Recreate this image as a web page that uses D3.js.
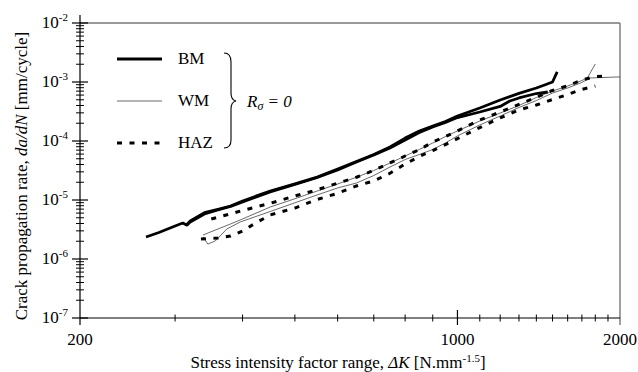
<!DOCTYPE html>
<html><head><meta charset="utf-8">
<script src="https://cdn.jsdelivr.net/npm/d3@7"></script>
<style>
body{margin:0;background:#fff}
svg{display:block}
</style>
</head><body><svg id="c" width="638" height="372" font-family="'Liberation Serif', 'Times New Roman', serif"></svg>
<script>
// ---- data ----
const xTickLabels = [200, 1000, 2000];
const yExponents = [-7, -6, -5, -4, -3, -2];
const legendNames = ["BM", "WM", "HAZ"];

const bmA_dK   = [265,280,300,310,315,320,340,360,380,400,450,500,550,600,650,700,750,800,850,900,950,1000,1100,1200,1300,1400,1450,1500,1530];
const bmA_rate = [2.36e-6,2.81e-6,3.62e-6,4.07e-6,3.77e-6,4.41e-6,6.10e-6,6.95e-6,7.91e-6,9.62e-6,1.42e-5,1.87e-5,2.45e-5,3.35e-5,4.50e-5,5.91e-5,7.91e-5,1.12e-4,1.48e-4,1.79e-4,2.14e-4,2.65e-4,3.62e-4,4.95e-4,6.43e-4,7.91e-4,8.89e-4,1.0e-3,1.48e-3];

const bmB_dK   = [315,320,340,360,380,400,450,500,550,600,650,700,750,800,850,900,950,1000,1100,1200,1250,1300,1400,1470];
const bmB_rate = [3.70e-6,4.24e-6,5.80e-6,6.77e-6,7.76e-6,9.25e-6,1.37e-5,1.83e-5,2.41e-5,3.22e-5,4.41e-5,5.80e-5,7.60e-5,1.04e-4,1.39e-4,1.73e-4,2.06e-4,2.50e-4,3.10e-4,3.85e-4,4.76e-4,5.36e-4,6.38e-4,6.77e-4];

const wmA_dK   = [338,360,380,400,450,500,550,600,650,700,750,800,850,900,950,1000,1100,1200,1300,1400,1500,1600,1700,1740,1800];
const wmA_rate = [2.55e-6,3.22e-6,3.92e-6,4.77e-6,7.60e-6,1.05e-5,1.42e-5,1.87e-5,2.43e-5,3.16e-5,4.24e-5,5.57e-5,7.18e-5,9.25e-5,1.19e-4,1.48e-4,2.18e-4,2.98e-4,4.00e-4,5.46e-4,7.03e-4,8.55e-4,1.06e-3,1.17e-3,2.02e-3];

const wmB_dK   = [338,345,356,374,396,450,500,550,600,650,700,750,800,850,900,950,1000,1100,1200,1300,1400,1500,1600,1700,1760,2000];
const wmB_rate = [2.36e-6,1.79e-6,2.02e-6,3.22e-6,4.24e-6,6.38e-6,8.97e-6,1.22e-5,1.60e-5,1.94e-5,2.60e-5,3.62e-5,4.85e-5,5.91e-5,7.18e-5,9.25e-5,1.22e-4,1.87e-4,2.65e-4,3.70e-4,4.85e-4,6.51e-4,7.91e-4,9.82e-4,1.17e-3,1.22e-3];

const hazA_dK   = [350,380,400,450,500,550,600,650,700,750,800,850,900,950,1000,1100,1200,1300,1400,1500,1600,1700,1800,1900];
const hazA_rate = [4.77e-6,5.80e-6,6.64e-6,8.79e-6,1.17e-5,1.49e-5,1.93e-5,2.43e-5,3.18e-5,4.24e-5,5.57e-5,7.13e-5,9.61e-5,1.19e-4,1.48e-4,2.27e-4,3.10e-4,4.16e-4,5.51e-4,7.18e-4,8.63e-4,1.08e-3,1.24e-3,1.26e-3];

const hazB_dK   = [335,360,380,400,420,450,500,550,600,650,700,750,800,850,900,950,1000,1100,1200,1300,1400,1500,1600,1700,1800];
const hazB_rate = [2.18e-6,2.27e-6,2.45e-6,2.98e-6,3.92e-6,5.57e-6,7.31e-6,1.02e-5,1.30e-5,1.73e-5,2.10e-5,2.84e-5,4.07e-5,5.46e-5,6.90e-5,8.69e-5,1.10e-4,1.69e-4,2.47e-4,3.35e-4,4.07e-4,5.05e-4,6.14e-4,7.51e-4,8.55e-4];

// ---- chart ----
const FONT = "'Liberation Serif', 'Times New Roman', serif";
const svg = d3.select("#c");
const L = 80, R = 620, T = 23, B = 318;
const x = d3.scaleLog().domain([200, 2000]).range([L, R]);
const y = d3.scaleLog().domain([1e-7, 1e-2]).range([B, T]);

const styles = {
  BM:  {stroke:"#000", width:2.8, dash:null},
  WM:  {stroke:"#444", width:0.8, dash:null},
  HAZ: {stroke:"#000", width:3, dash:"5,7.5"}
};
const txt = (sel, size) => sel.attr("font-family", FONT).attr("font-size", size).attr("fill", "#000");

// frame
svg.append("line").attr("x1",L).attr("x2",R).attr("y1",T).attr("y2",T).attr("stroke","#777").attr("stroke-width",1.4);
svg.append("line").attr("x1",R).attr("x2",R).attr("y1",T).attr("y2",B+7).attr("stroke","#777").attr("stroke-width",1.4);
svg.append("line").attr("x1",L).attr("x2",L).attr("y1",T-8).attr("y2",B+7).attr("stroke","#000").attr("stroke-width",1.2);
svg.append("line").attr("x1",L).attr("x2",R).attr("y1",B).attr("y2",B).attr("stroke","#000").attr("stroke-width",1.2);

// y ticks
const yMinor = [];
yExponents.forEach(e => { if (e < -2) for (let m = 2; m <= 9; m++) yMinor.push(m * Math.pow(10, e)); });
svg.append("g").selectAll("line").data(yMinor).join("line")
  .attr("x1",L-4).attr("x2",L+4).attr("y1",d=>y(d)).attr("y2",d=>y(d)).attr("stroke","#000").attr("stroke-width",1);
svg.append("g").selectAll("line").data(yExponents).join("line")
  .attr("x1",L-8).attr("x2",L+8).attr("y1",d=>y(Math.pow(10,d))).attr("y2",d=>y(Math.pow(10,d))).attr("stroke","#000").attr("stroke-width",1.2);
const yl = txt(svg.append("g").selectAll("text").data(yExponents).join("text"), 17)
  .attr("x",68).attr("y",d=>y(Math.pow(10,d))+5).attr("text-anchor","end");
yl.append("tspan").text("10");
yl.append("tspan").attr("dy",-7).attr("font-size",11).text(d=>String(d));

// x ticks
const xMinor = [300,400,500,600,700,800,900,1100,1200,1300,1400,1500,1600,1700,1800,1900];
svg.append("g").selectAll("line").data(xMinor).join("line")
  .attr("x1",d=>x(d)).attr("x2",d=>x(d)).attr("y1",B-3.5).attr("y2",B+3.5).attr("stroke","#000").attr("stroke-width",1);
svg.append("line").attr("x1",x(1000)).attr("x2",x(1000)).attr("y1",B-8).attr("y2",B+7).attr("stroke","#000").attr("stroke-width",1.2);
txt(svg.append("g").selectAll("text").data(xTickLabels).join("text"), 17)
  .attr("x",d=>x(d)).attr("y",345).attr("text-anchor","middle").text(d=>d);

// axis titles
const xt = txt(svg.append("text"), 17).attr("x",338).attr("y",368).attr("text-anchor","middle");
xt.append("tspan").text("Stress intensity factor range, ");
xt.append("tspan").attr("font-style","italic").text("ΔK");
xt.append("tspan").text(" [N.mm");
xt.append("tspan").attr("dy",-6).attr("font-size",11).text("-1.5");
xt.append("tspan").attr("dy",6).text("]");

const yt = txt(svg.append("text"), 17).attr("transform","translate(27,176) rotate(-90)").attr("text-anchor","middle");
yt.append("tspan").text("Crack propagation rate, ");
yt.append("tspan").attr("font-style","italic").text("da/dN");
yt.append("tspan").text(" [mm/cycle]");

// curves
const line = d3.line().x(d=>x(d[0])).y(d=>y(d[1]));
const zip = (a,b) => a.map((v,i)=>[v,b[i]]);
const curves = [
  {name:"WM", data:zip(wmA_dK,wmA_rate)},
  {name:"WM", data:zip(wmB_dK,wmB_rate)},
  {name:"HAZ", data:zip(hazA_dK,hazA_rate)},
  {name:"HAZ", data:zip(hazB_dK,hazB_rate)},
  {name:"BM", data:zip(bmA_dK,bmA_rate)},
  {name:"BM", data:zip(bmB_dK,bmB_rate)}
];
svg.append("g").selectAll("path").data(curves).join("path")
  .attr("d",d=>line(d.data)).attr("fill","none")
  .attr("stroke",d=>styles[d.name].stroke).attr("stroke-width",d=>styles[d.name].width)
  .attr("stroke-dasharray",d=>styles[d.name].dash).attr("stroke-linejoin","round");

// legend
const legY = [59, 101, 143];
const lg = svg.append("g");
legendNames.forEach((n,i)=>{
  const s = styles[n];
  lg.append("line").attr("x1",117).attr("x2",162).attr("y1",legY[i]).attr("y2",legY[i])
    .attr("stroke",s.stroke).attr("stroke-width",s.width).attr("stroke-dasharray",s.dash);
  txt(lg.append("text"), 17).attr("x",178).attr("y",legY[i]+5).text(n);
});
// brace
lg.append("path").attr("d","M224,53 Q231,53 231,62 L231,93 Q231,100 236,101 Q231,102 231,109 L231,140 Q231,148 224,148")
  .attr("fill","none").attr("stroke","#000").attr("stroke-width",1.1);
const rt = txt(lg.append("text"), 17).attr("x",247).attr("y",107).attr("font-style","italic");
rt.append("tspan").text("R");
rt.append("tspan").attr("dy",3).attr("font-size",12).text("σ");
rt.append("tspan").attr("dy",-3).text(" = 0");
</script>
</body></html>
